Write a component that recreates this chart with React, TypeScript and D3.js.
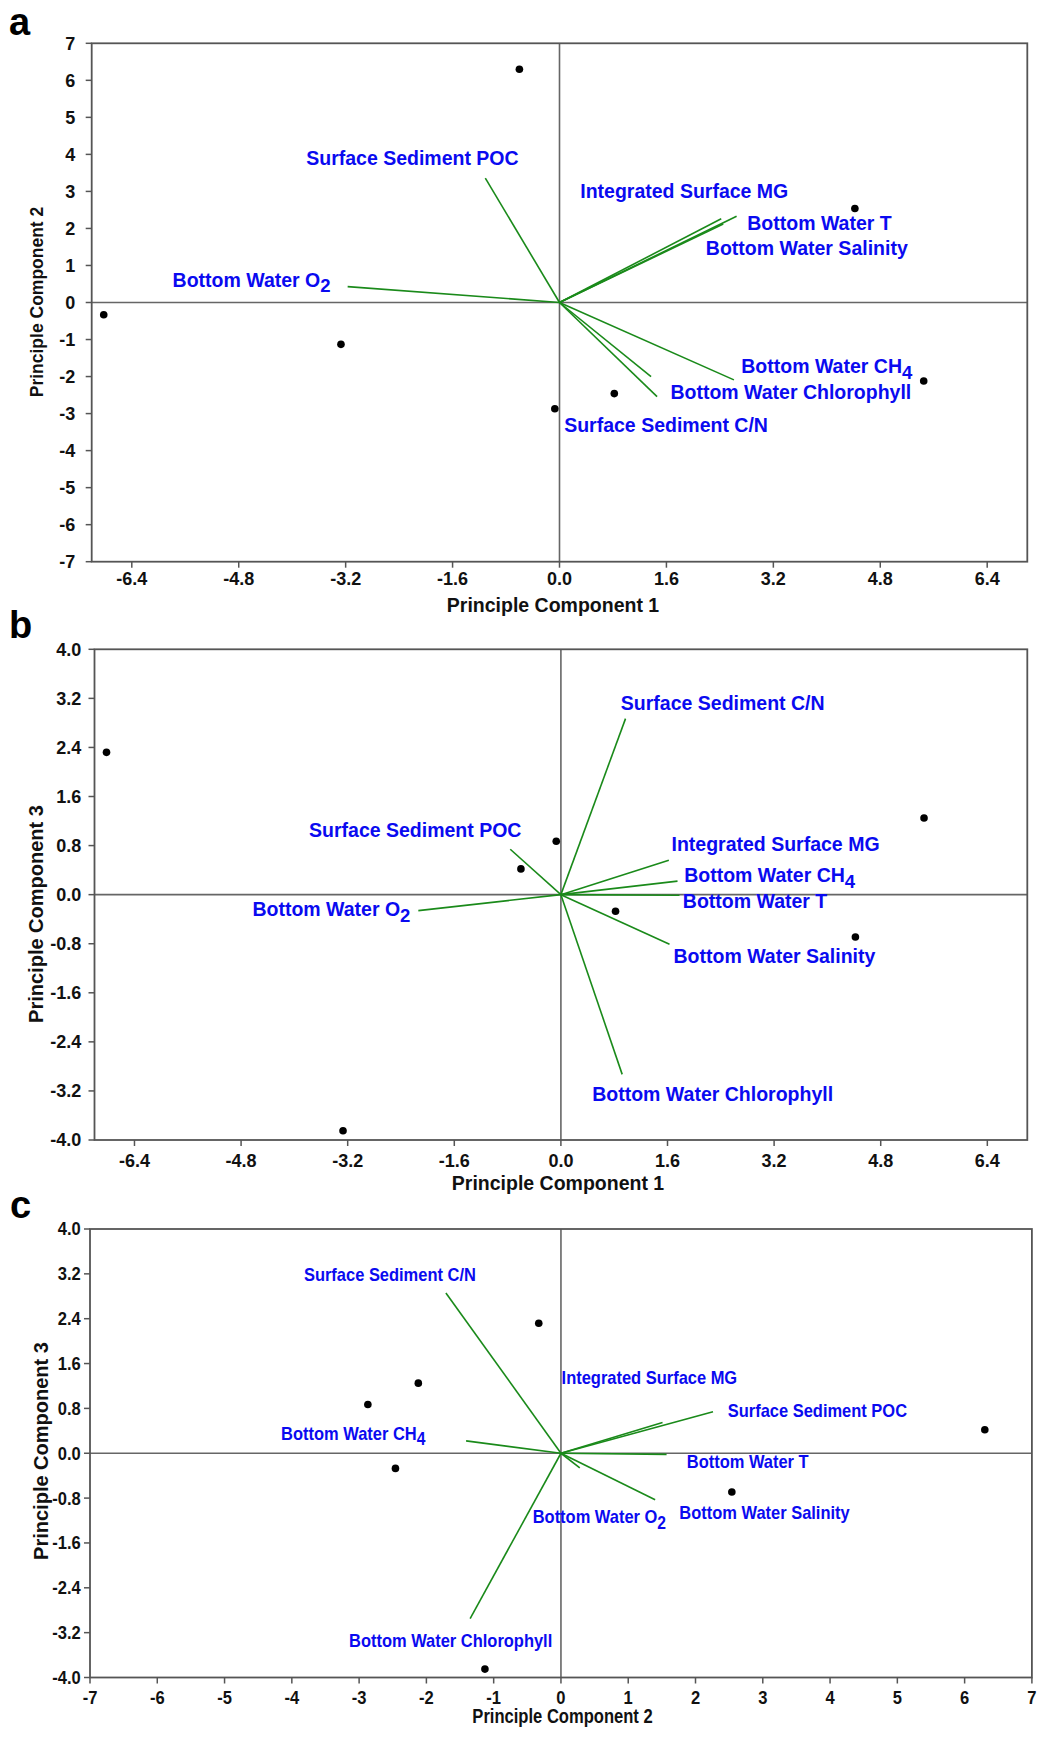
import React from "react";
import * as d3 from "d3";

// ---------- data ----------
// Sample scores (7 samples)
const SAMPLE_PC1 = [-6.82, -0.6, -0.07, 0.82, 5.45, 4.42, -3.27];
const SAMPLE_PC2 = [-0.33, 6.3, -2.87, -2.46, -2.12, 2.54, -1.13];
const SAMPLE_PC3 = [2.32, 0.42, 0.87, -0.27, 1.25, -0.69, -3.85];

// Variables (loading vectors)
const VARIABLES = [
  "Surface Sediment POC",
  "Integrated Surface MG",
  "Bottom Water T",
  "Bottom Water Salinity",
  "Bottom Water O2",
  "Bottom Water CH4",
  "Bottom Water Chlorophyll",
  "Surface Sediment C/N",
];

// Vector end points, panel a (PC1 vs PC2)
const VEC_A_PC1 = [-1.11, 2.42, 2.65, 2.45, -3.17, 2.61, 1.37, 1.46];
const VEC_A_PC2 = [3.36, 2.26, 2.33, 2.12, 0.43, -2.09, -2.0, -2.54];
// panel b (PC1 vs PC3)
const VEC_B_PC1 = [-0.76, 1.62, 1.78, 1.63, -2.14, 1.75, 0.92, 0.97];
const VEC_B_PC3 = [0.74, 0.56, -0.01, -0.81, -0.26, 0.22, -2.93, 2.87];
// panel c (PC2 vs PC3)
const VEC_C_PC2 = [2.26, 1.51, 1.57, 1.4, 0.28, -1.41, -1.35, -1.71];
const VEC_C_PC3 = [0.74, 0.55, -0.02, -0.83, -0.26, 0.22, -2.95, 2.86];

// Label anchors (data units, text starts here)
const LBL_A_X = [-3.79, 0.31, 2.81, 2.19, -5.79, 2.72, 1.66, 0.07];
const LBL_A_Y = [3.72, 2.82, 1.96, 1.27, 0.43, -1.91, -2.61, -3.51];
const LBL_B_X = [-3.78, 1.66, 1.83, 1.69, -4.63, 1.85, 0.47, 0.9];
const LBL_B_Y = [0.94, 0.71, -0.22, -1.11, -0.35, 0.2, -3.37, 3.01];
const LBL_C_X = [2.48, 0.01, 1.87, 1.76, -0.42, -4.16, -3.15, -3.82];
const LBL_C_Y = [0.64, 1.24, -0.27, -1.18, -1.25, 0.24, -3.45, 3.07];

// Ticks
const TICKS_PC1 = [-6.4, -4.8, -3.2, -1.6, 0, 1.6, 3.2, 4.8, 6.4];
const TICKS_A_Y = [-7, -6, -5, -4, -3, -2, -1, 0, 1, 2, 3, 4, 5, 6, 7];
const TICKS_PC3 = [-4, -3.2, -2.4, -1.6, -0.8, 0, 0.8, 1.6, 2.4, 3.2, 4];
const TICKS_C_X = [-7, -6, -5, -4, -3, -2, -1, 0, 1, 2, 3, 4, 5, 6, 7];

const TITLE_PC1 = "Principle Component 1";
const TITLE_PC2 = "Principle Component 2";
const TITLE_PC3 = "Principle Component 3";

// ---------- styling ----------
const FONT = "'Liberation Sans', Arial, Helvetica, sans-serif";
const BLUE = "#0a0af0";
const GREEN = "#1a8a1a";
const FRAME = "#555";

const locale = d3.formatLocale({
  decimal: ".",
  thousands: ",",
  grouping: [3],
  currency: ["", ""],
  minus: "-",
});

function Label({ x, y, name, size, squeeze }) {
  const m = name.match(/^(.*[A-Z])(\d)$/);
  const main = m ? m[1] : name;
  const sub = m ? m[2] : null;
  return (
    <text
      transform={`translate(${x},${y}) scale(${squeeze},1)`}
      fontFamily={FONT}
      fontWeight="bold"
      fontSize={size}
      fill={BLUE}
    >
      {main}
      {sub && (
        <tspan dy={size * 0.28} fontSize={size * 0.95}>
          {sub}
        </tspan>
      )}
    </text>
  );
}

function Panel(p) {
  const x = d3.scaleLinear().domain(p.xDom).range(p.xRange);
  const y = d3.scaleLinear().domain(p.yDom).range(p.yRange);
  const left = p.xRange[0];
  const right = p.xRange[1];
  const bottom = p.yRange[0];
  const top = p.yRange[1];
  const fx = locale.format(p.xFmt);
  const fy = locale.format(p.yFmt);
  const tick = 6;
  return (
    <g>
      <text
        x={p.letterX}
        y={p.letterY}
        fontFamily={FONT}
        fontWeight="bold"
        fontSize={38}
        fill="#000"
      >
        {p.letter}
      </text>
      {/* zero lines */}
      <line x1={x(0)} x2={x(0)} y1={top} y2={bottom} stroke="#666" strokeWidth={1.6} />
      <line x1={left} x2={right} y1={y(0)} y2={y(0)} stroke="#666" strokeWidth={1.6} />
      {/* frame */}
      <rect
        x={left}
        y={top}
        width={right - left}
        height={bottom - top}
        fill="none"
        stroke={FRAME}
        strokeWidth={1.8}
      />
      {/* ticks */}
      {p.xTicks.map((t) => (
        <g key={"xt" + t}>
          <line x1={x(t)} x2={x(t)} y1={bottom} y2={bottom + tick} stroke={FRAME} strokeWidth={1.5} />
          <text
            transform={`translate(${x(t)},${bottom + p.xLabOff}) scale(${p.tickSq},1)`}
            textAnchor="middle"
            fontFamily={FONT}
            fontWeight="bold"
            fontSize={p.tickSize}
            fill="#111"
          >
            {fx(t)}
          </text>
        </g>
      ))}
      {p.yTicks.map((t) => (
        <g key={"yt" + t}>
          <line x1={left - tick} x2={left} y1={y(t)} y2={y(t)} stroke={FRAME} strokeWidth={1.5} />
          <text
            transform={`translate(${left - p.yLabOff},${y(t)}) scale(${p.tickSq},1)`}
            textAnchor="end"
            dy="0.36em"
            fontFamily={FONT}
            fontWeight="bold"
            fontSize={p.tickSize}
            fill="#111"
          >
            {fy(t)}
          </text>
        </g>
      ))}
      {/* axis titles */}
      <text
        transform={`translate(${p.xTitleX},${p.xTitleY}) scale(${p.xTitleSq},1)`}
        textAnchor="middle"
        fontFamily={FONT}
        fontWeight="bold"
        fontSize={p.xTitleSize}
        fill="#111"
      >
        {p.xTitle}
      </text>
      <text
        transform={`translate(${p.yTitleX},${p.yTitleY}) rotate(-90) scale(${p.yTitleSq},1)`}
        textAnchor="middle"
        fontFamily={FONT}
        fontWeight="bold"
        fontSize={p.yTitleSize}
        fill="#111"
      >
        {p.yTitle}
      </text>
      {/* loading vectors */}
      {VARIABLES.map((v, i) => (
        <line
          key={"v" + i}
          x1={x(0)}
          y1={y(0)}
          x2={x(p.vecX[i])}
          y2={y(p.vecY[i])}
          stroke={GREEN}
          strokeWidth={1.6}
        />
      ))}
      {/* sample points */}
      {p.ptsX.map((v, i) => (
        <circle key={"p" + i} cx={x(v)} cy={y(p.ptsY[i])} r={3.8} fill="#000" />
      ))}
      {/* labels */}
      {VARIABLES.map((v, i) => (
        <Label
          key={"l" + i}
          x={x(p.lblX[i])}
          y={y(p.lblY[i])}
          name={v}
          size={p.labelSize}
          squeeze={p.labelSq}
        />
      ))}
    </g>
  );
}

export default function App() {
  return (
    <svg
      width={1038}
      height={1737}
      style={{ position: "absolute", left: 0, top: 0, background: "#fff" }}
    >
      <rect x={0} y={0} width={1038} height={1737} fill="#fff" />
      <Panel
        letter="a"
        letterX={9}
        letterY={35}
        xDom={[-7, 7]}
        xRange={[91.7, 1027.3]}
        yDom={[-7, 7]}
        yRange={[561.7, 43.3]}
        xTicks={TICKS_PC1}
        yTicks={TICKS_A_Y}
        xFmt=".1f"
        yFmt="d"
        xLabOff={22.8}
        yLabOff={16.5}
        tickSize={18}
        tickSq={1}
        ptsX={SAMPLE_PC1}
        ptsY={SAMPLE_PC2}
        vecX={VEC_A_PC1}
        vecY={VEC_A_PC2}
        lblX={LBL_A_X}
        lblY={LBL_A_Y}
        labelSize={19.5}
        labelSq={1}
        xTitle={TITLE_PC1}
        xTitleX={553}
        xTitleY={611.7}
        xTitleSize={19.5}
        xTitleSq={1}
        yTitle={TITLE_PC2}
        yTitleX={43}
        yTitleY={302}
        yTitleSize={17.5}
        yTitleSq={1}
      />
      <Panel
        letter="b"
        letterX={9}
        letterY={638}
        xDom={[-7, 7]}
        xRange={[94.5, 1027.3]}
        yDom={[-4, 4]}
        yRange={[1140, 649.3]}
        xTicks={TICKS_PC1}
        yTicks={TICKS_PC3}
        xFmt=".1f"
        yFmt=".1f"
        xLabOff={26.7}
        yLabOff={13.3}
        tickSize={18}
        tickSq={1}
        ptsX={SAMPLE_PC1}
        ptsY={SAMPLE_PC3}
        vecX={VEC_B_PC1}
        vecY={VEC_B_PC3}
        lblX={LBL_B_X}
        lblY={LBL_B_Y}
        labelSize={19.5}
        labelSq={1}
        xTitle={TITLE_PC1}
        xTitleX={558}
        xTitleY={1190}
        xTitleSize={19.5}
        xTitleSq={1}
        yTitle={TITLE_PC3}
        yTitleX={43}
        yTitleY={914}
        yTitleSize={20}
        yTitleSq={1}
      />
      <Panel
        letter="c"
        letterX={10}
        letterY={1218}
        xDom={[-7, 7]}
        xRange={[90, 1031.9]}
        yDom={[-4, 4]}
        yRange={[1677.5, 1229]}
        xTicks={TICKS_C_X}
        yTicks={TICKS_PC3}
        xFmt="d"
        yFmt=".1f"
        xLabOff={26.5}
        yLabOff={9.3}
        tickSize={18}
        tickSq={0.92}
        ptsX={SAMPLE_PC2}
        ptsY={SAMPLE_PC3}
        vecX={VEC_C_PC2}
        vecY={VEC_C_PC3}
        lblX={LBL_C_X}
        lblY={LBL_C_Y}
        labelSize={18.5}
        labelSq={0.89}
        xTitle={TITLE_PC2}
        xTitleX={562.5}
        xTitleY={1723}
        xTitleSize={19.5}
        xTitleSq={0.85}
        yTitle={TITLE_PC3}
        yTitleX={48}
        yTitleY={1451}
        yTitleSize={20}
        yTitleSq={1}
      />
    </svg>
  );
}
